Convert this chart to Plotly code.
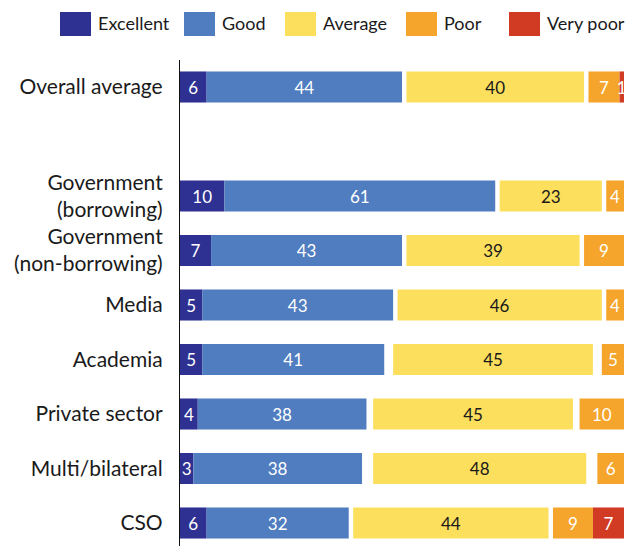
import numpy as np
import plotly.graph_objects as go

# Survey ratings, percentage of respondents per stakeholder group
categories = [
    "Overall average",
    "Government<br>(borrowing)",
    "Government<br>(non-borrowing)",
    "Media",
    "Academia",
    "Private sector",
    "Multi/bilateral",
    "CSO",
]
excellent = [6, 10, 7, 5, 5, 4, 3, 6]
good = [44, 61, 43, 43, 41, 38, 38, 32]
average = [40, 23, 39, 46, 45, 45, 48, 44]
poor = [7, 4, 9, 4, 5, 10, 6, 9]
very_poor = [1, 0, 0, 0, 0, 0, 0, 7]

legend_labels = ["Excellent", "Good", "Average", "Poor", "Very poor"]

# Row slots (slot 1 left empty to separate the overall average)
row_pos = [0, 2, 3, 4, 5, 6, 7, 8]

COLORS = {
    "Excellent": "#2e3192",
    "Good": "#4f7dc0",
    "Average": "#fcdf5d",
    "Poor": "#f5a52b",
    "Very poor": "#d13b24",
}
FONT = "Lato, 'Open Sans', sans-serif"

W, H = 629, 546
ML, MT = 180, 60
PX_PER_UNIT = 4.44
BAR_W = 0.57

exc = np.array(excellent, float)
gd = np.array(good, float)
av = np.array(average, float)
pr = np.array(poor, float)
vp = np.array(very_poor, float)
total = exc + gd + av + pr + vp

# Positive ratings start at 0, negative ratings end at 100,
# and the neutral block sits centred in the remaining space.
base_exc = np.zeros_like(exc)
base_good = exc
base_avg = exc + gd + (100 - total) / 2
base_poor = 100 - pr - vp
base_vp = 100 - vp

series = [
    ("Excellent", exc, base_exc, "white"),
    ("Good", gd, base_good, "white"),
    ("Average", av, base_avg, "#1a1a1a"),
    ("Poor", pr, base_poor, "white"),
    ("Very poor", vp, base_vp, "white"),
]

fig = go.Figure()
for name, vals, base, tcol in series:
    fig.add_trace(go.Bar(
        y=row_pos,
        x=vals,
        base=base,
        orientation="h",
        width=BAR_W,
        name=name,
        marker=dict(color=COLORS[name], line=dict(width=0)),
        text=[f"{v:g}" if v > 0 else "" for v in vals],
        textposition="inside",
        insidetextanchor="middle",
        textangle=0,
        insidetextfont=dict(color=tcol, size=17, family=FONT),
        cliponaxis=False,
        showlegend=False,
        hoverinfo="skip",
    ))

plot_w = W - ML
plot_h = H - MT
x_max = plot_w / PX_PER_UNIT

# Vertical mapping: slot centre at 87 px, slot pitch 54.5 px
y_top = (MT - 87) / 54.5
y_bot = (H - 87) / 54.5

fig.update_layout(
    width=W,
    height=H,
    margin=dict(l=ML, r=0, t=MT, b=0, pad=0),
    paper_bgcolor="white",
    plot_bgcolor="white",
    barmode="overlay",
    uniformtext=dict(minsize=17, mode="show"),
    font=dict(family=FONT, color="#1a1a1a"),
    xaxis=dict(range=[0, x_max], visible=False, fixedrange=True),
    yaxis=dict(
        range=[y_bot, y_top],
        tickvals=row_pos,
        ticktext=categories,
        showline=True,
        linecolor="#111111",
        linewidth=1.2,
        ticks="",
        showgrid=False,
        zeroline=False,
        ticklabelstandoff=12,
        tickfont=dict(size=21, family=FONT, color="#1a1a1a"),
    ),
)

# Legend row: coloured squares with labels, positioned in pixels
def px_x(px):
    return (px - ML) / plot_w

def px_y(py):
    return (H - py) / plot_h

legend_x = [60, 184, 285, 406, 509]
sq_w, sq_top, sq_bot = 31, 12, 36
for label, x0 in zip(legend_labels, legend_x):
    fig.add_shape(
        type="rect", xref="paper", yref="paper",
        x0=px_x(x0), x1=px_x(x0 + sq_w),
        y0=px_y(sq_bot), y1=px_y(sq_top),
        fillcolor=COLORS[label], line=dict(width=0),
    )
    fig.add_annotation(
        xref="paper", yref="paper",
        x=px_x(x0 + sq_w + 5), y=px_y(23),
        text=label, showarrow=False,
        xanchor="left", yanchor="middle",
        font=dict(size=18, family=FONT, color="#1a1a1a"),
    )

fig.write_html("out.html")
